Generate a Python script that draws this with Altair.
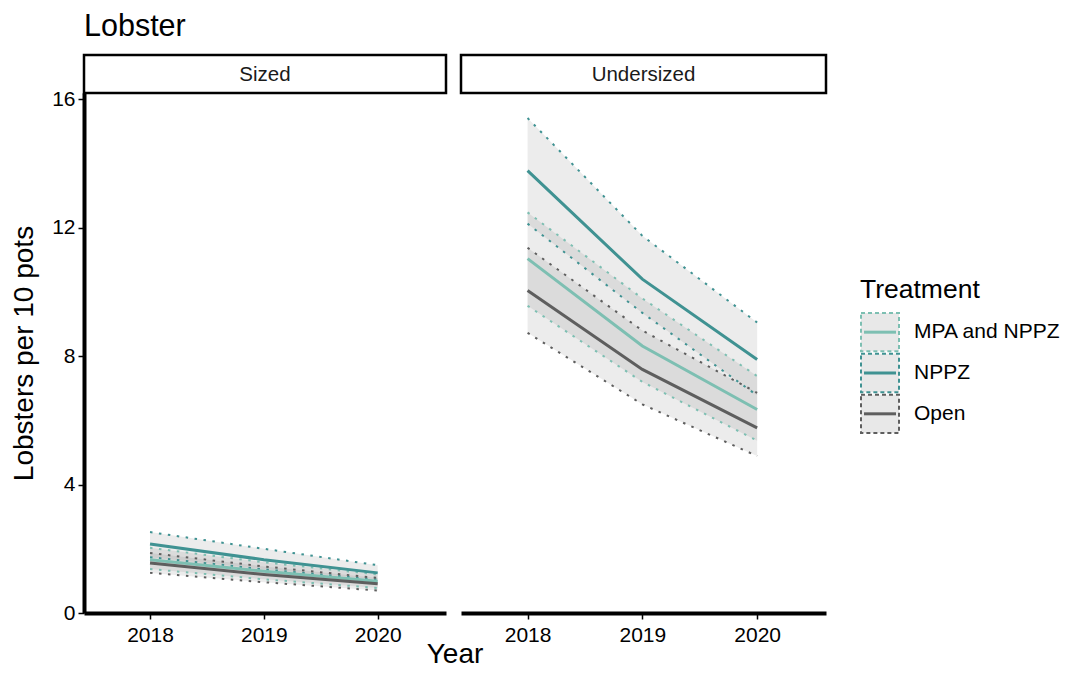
import altair as alt
import pandas as pd

YEARS = [2018, 2019, 2020]
TREATMENTS = ["MPA and NPPZ", "NPPZ", "Open"]
COLORS = ["#7DBFB2", "#3F9292", "#5E5E5E"]
PANELS = ["Sized", "Undersized"]

# Sized
SIZED_MPA_MEAN = [1.66, 1.30, 0.99]
SIZED_MPA_LOW = [1.37, 1.05, 0.78]
SIZED_MPA_HIGH = [2.03, 1.58, 1.20]
SIZED_NPPZ_MEAN = [2.15, 1.66, 1.25]
SIZED_NPPZ_LOW = [1.74, 1.36, 1.04]
SIZED_NPPZ_HIGH = [2.52, 2.00, 1.49]
SIZED_OPEN_MEAN = [1.56, 1.20, 0.91]
SIZED_OPEN_LOW = [1.25, 0.96, 0.70]
SIZED_OPEN_HIGH = [1.87, 1.45, 1.09]

# Undersized
UNDER_MPA_MEAN = [11.04, 8.32, 6.34]
UNDER_MPA_LOW = [9.57, 7.20, 5.37]
UNDER_MPA_HIGH = [12.48, 9.80, 7.38]
UNDER_NPPZ_MEAN = [13.78, 10.40, 7.90]
UNDER_NPPZ_LOW = [12.13, 9.35, 6.78]
UNDER_NPPZ_HIGH = [15.42, 11.75, 9.05]
UNDER_OPEN_MEAN = [10.05, 7.59, 5.77]
UNDER_OPEN_LOW = [8.73, 6.50, 4.89]
UNDER_OPEN_HIGH = [11.38, 8.80, 6.86]

series = {
    ("Sized", "MPA and NPPZ"): (SIZED_MPA_MEAN, SIZED_MPA_LOW, SIZED_MPA_HIGH),
    ("Sized", "NPPZ"): (SIZED_NPPZ_MEAN, SIZED_NPPZ_LOW, SIZED_NPPZ_HIGH),
    ("Sized", "Open"): (SIZED_OPEN_MEAN, SIZED_OPEN_LOW, SIZED_OPEN_HIGH),
    ("Undersized", "MPA and NPPZ"): (UNDER_MPA_MEAN, UNDER_MPA_LOW, UNDER_MPA_HIGH),
    ("Undersized", "NPPZ"): (UNDER_NPPZ_MEAN, UNDER_NPPZ_LOW, UNDER_NPPZ_HIGH),
    ("Undersized", "Open"): (UNDER_OPEN_MEAN, UNDER_OPEN_LOW, UNDER_OPEN_HIGH),
}

rows = []
for (size, trt), (m, lo, hi) in series.items():
    for i, yr in enumerate(YEARS):
        rows.append({"Size": size, "Treatment": trt, "Year": yr,
                     "mean": m[i], "lower": lo[i], "upper": hi[i]})
df = pd.DataFrame(rows)

FONT = "Liberation Sans"
H = 558
STRIP = 38
TICK_FS = 21

color_scale = alt.Scale(domain=TREATMENTS, range=COLORS)


def panel(name, first, W):
    d = df[df.Size == name]
    base = alt.Chart(d)
    x = alt.X("Year:Q",
              scale=alt.Scale(domain=[2017.42, 2020.6], nice=False, zero=False),
              axis=alt.Axis(values=YEARS, format="d", title=None, grid=False,
                            domainColor="black", domainWidth=4, tickColor="black",
                            tickWidth=1.5, tickSize=6, labelFontSize=TICK_FS,
                            labelColor="black", labelPadding=5, labelFont=FONT))
    yscale = alt.Scale(domain=[0, 16.2], range=[H, STRIP], nice=False, zero=False)
    if first:
        yaxis = alt.Axis(values=[0, 4, 8, 12, 16], title="Lobsters per 10 pots",
                         grid=False, domainColor="black", domainWidth=4,
                         tickColor="black", tickWidth=1.5, tickSize=6,
                         labelFontSize=TICK_FS, labelColor="black", labelPadding=3,
                         labelFont=FONT, titleFont=FONT, titleFontSize=28,
                         titleFontWeight="normal", titleColor="black",
                         titlePadding=13)
    else:
        yaxis = None
    color = alt.Color("Treatment:N", scale=color_scale, legend=None)

    band = base.mark_area(color="#808080", opacity=0.15).encode(
        x=x, y=alt.Y("lower:Q", scale=yscale, axis=yaxis), y2="upper:Q",
        detail="Treatment:N")
    lo = base.mark_line(strokeWidth=2, strokeDash=[2.5, 6.5]).encode(
        x=x, y=alt.Y("lower:Q", scale=yscale, axis=yaxis), color=color)
    hi = base.mark_line(strokeWidth=2, strokeDash=[2.5, 6.5]).encode(
        x=x, y=alt.Y("upper:Q", scale=yscale, axis=yaxis), color=color)
    mean = base.mark_line(strokeWidth=3).encode(
        x=x, y=alt.Y("mean:Q", scale=yscale, axis=yaxis), color=color)

    sdf = pd.DataFrame({"label": [name]})
    strip = alt.Chart(sdf).mark_rect(fill="white", stroke="black", strokeWidth=2.5).encode(
        x=alt.value(0), x2=alt.value(W), y=alt.value(0), y2=alt.value(STRIP))
    stext = alt.Chart(sdf).mark_text(fontSize=20.5, font=FONT, color="#1a1a1a",
                                     baseline="middle").encode(
        x=alt.value(W / 2), y=alt.value(STRIP / 2 + 1), text="label:N")
    layers = [band, lo, hi, mean, strip, stext]
    if first:
        tdf = pd.DataFrame({"t": ["Lobster", "Year"]})
        title = alt.Chart(tdf.iloc[[0]]).mark_text(
            fontSize=30.5, font=FONT, color="black", align="left",
            baseline="alphabetic").encode(
            x=alt.value(0), y=alt.value(-19), text="t:N")
        xt = alt.Chart(tdf.iloc[[1]]).mark_text(
            fontSize=28, font=FONT, color="black", align="center",
            baseline="alphabetic").encode(
            x=alt.value(371), y=alt.value(608), text="t:N")
        layers += [title, xt]
    return alt.layer(*layers).properties(width=W, height=H)


left = panel("Sized", True, 362)
right = panel("Undersized", False, 365)

# legend drawn as its own small view, offset from its left edge
LX = 19
ldf = pd.DataFrame({"Treatment": TREATMENTS})
ly_scale = alt.Scale(domain=TREATMENTS, range=[258, 378], paddingInner=0.06, paddingOuter=0)
lbase = alt.Chart(ldf)
boxes = lbase.mark_rect(fill="#E8E8E8", strokeWidth=2, strokeDash=[4, 3]).encode(
    x=alt.value(LX + 1), x2=alt.value(LX + 39),
    y=alt.Y("Treatment:N", scale=ly_scale, axis=None),
    stroke=alt.Stroke("Treatment:N", scale=color_scale, legend=None))
keys = lbase.mark_rule(strokeWidth=3).encode(
    x=alt.value(LX + 4), x2=alt.value(LX + 36),
    y=alt.Y("Treatment:N", scale=ly_scale, axis=None, bandPosition=0.5),
    color=alt.Color("Treatment:N", scale=color_scale, legend=None))
labels = lbase.mark_text(align="left", baseline="middle", fontSize=21, font=FONT,
                         color="black").encode(
    x=alt.value(LX + 54),
    y=alt.Y("Treatment:N", scale=ly_scale, axis=None, bandPosition=0.5),
    text="Treatment:N")
ltitle = alt.Chart(pd.DataFrame({"t": ["Treatment"]})).mark_text(
    align="left", baseline="alphabetic", fontSize=26.5, font=FONT, color="black").encode(
    x=alt.value(LX), y=alt.value(243), text="t:N")
legend = alt.layer(boxes, keys, labels, ltitle).properties(width=150, height=H)

chart = alt.hconcat(
    left, right, legend, spacing=15, bounds="flush"
).properties(
    padding={"left": 2, "top": 4, "right": 0, "bottom": 0}
).configure(font=FONT).configure_view(stroke=None)

chart.save("out.html", embed_options={"renderer": "svg", "actions": False})
